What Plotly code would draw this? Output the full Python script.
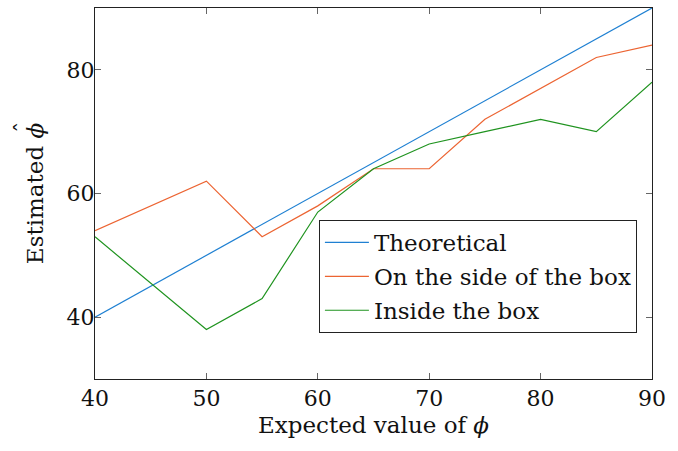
import plotly.graph_objects as go

x_vals = [40, 50, 55, 60, 65, 70, 75, 80, 85, 90]
theoretical = [40, 50, 55, 60, 65, 70, 75, 80, 85, 90]
side_of_box = [54, 62, 53, 58, 64, 64, 72, 77, 82, 84]
inside_box = [53, 38, 43, 57, 64, 68, 70, 72, 70, 78]

x_ticks = [40, 50, 60, 70, 80, 90]
y_ticks = [40, 60, 80]

FONT = "DejaVu Serif"
FS = 23

fig = go.Figure()
fig.add_trace(go.Scatter(x=x_vals, y=theoretical, mode="lines", name="Theoretical",
                         legendgroup="a", line=dict(color="#1f80d2", width=1.2)))
fig.add_trace(go.Scatter(x=x_vals, y=side_of_box, mode="lines", name="On the side of the box",
                         legendgroup="b", line=dict(color="#ec6432", width=1.2)))
fig.add_trace(go.Scatter(x=x_vals, y=inside_box, mode="lines", name="Inside the box",
                         legendgroup="c", line=dict(color="#1f931f", width=1.2)))

axis_common = dict(showgrid=False, zeroline=False, showline=True, linecolor="#222",
                   linewidth=1, mirror="ticks", ticks="inside", ticklen=6,
                   tickcolor="#666", tickfont=dict(family=FONT, size=22, color="#111"))

fig.update_xaxes(range=[40, 90], tickvals=x_ticks,
                 title=dict(text="Expected value of <i>ϕ</i>",
                            font=dict(family=FONT, size=FS, color="#111"), standoff=6),
                 **axis_common)
fig.update_yaxes(range=[30, 90], tickvals=y_ticks, ticklabelstandoff=-5,
                 title=dict(text="Estimated <i>ϕ</i>",
                            font=dict(family=FONT, size=FS, color="#111"), standoff=16),
                 **axis_common)

# hat over the phi of the y-axis title
fig.add_annotation(text="ˆ", xref="paper", yref="paper", x=-0.1306, y=0.68,
                   xanchor="center", yanchor="middle", textangle=-90, showarrow=False,
                   font=dict(family=FONT, size=FS, color="#111"))

fig.update_layout(
    width=678, height=451,
    margin=dict(l=95, r=26, t=8, b=72),
    plot_bgcolor="white", paper_bgcolor="white",
    font=dict(family=FONT, size=FS, color="#111"),
    legend=dict(x=0.402, y=0.4286, xanchor="left", yanchor="top",
                bgcolor="white", bordercolor="#222", borderwidth=1,
                font=dict(family=FONT, size=FS, color="#111"),
                itemwidth=44, tracegroupgap=1),
    showlegend=True,
)

fig.write_html("out.html", config={"displayModeBar": False},
               post_script="document.body.style.margin='0px';")
